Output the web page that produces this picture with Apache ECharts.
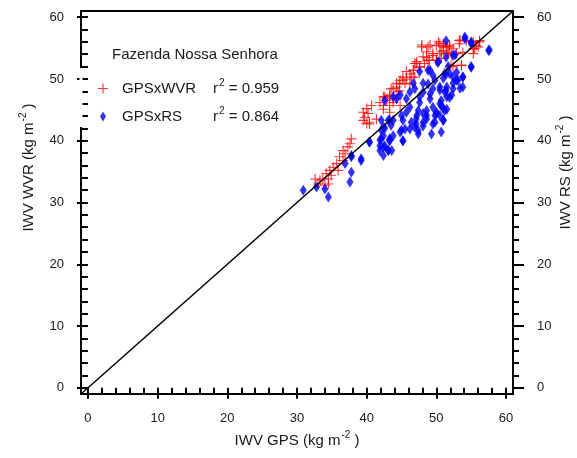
<!DOCTYPE html>
<html>
<head>
<meta charset="utf-8">
<script src="https://cdn.jsdelivr.net/npm/echarts@6/dist/echarts.min.js"></script>
<style>html,body{margin:0;padding:0;background:#fff}#c{width:577px;height:458px}</style>
</head>
<body>
<div id="c"></div>
<script>
// ---- data ----
var titleText = 'Fazenda Nossa Senhora';
var seriesNames = ['GPSxWVR', 'GPSxRS'];
var r2Values = ['0.959', '0.864'];
var majorTicks = [0, 10, 20, 30, 40, 50, 60];
var minorTicks = [2, 4, 6, 8, 12, 14, 16, 18, 22, 24, 26, 28, 32, 34, 36, 38, 42, 44, 46, 48, 52, 54, 56, 58];
var axisRange = [-1, 61];
var oneToOne = [-1, 61];
// GPSxWVR : [IWV GPS, IWV WVR]
var wvrPoints = [
 [47.9,55.2],[48.8,55.2],[50.0,55.4],[50.5,55.7],[51.4,55.4],[51.9,55.2],[51.0,54.6],[51.7,54.3],[50.5,54.1],[49.5,53.8],
 [48.6,53.5],[49.0,53.0],[50.0,53.0],[48.3,52.5],[47.1,52.5],[47.6,51.9],[46.7,51.4],[46.2,50.8],[46.9,50.3],[45.7,50.0],
 [45.2,49.8],[44.7,49.2],[46.2,49.2],[44.3,48.7],[43.5,48.4],[44.7,48.1],[43.3,47.3],[42.4,47.1],[42.8,46.5],[43.8,46.8],
 [41.9,46.2],[42.4,45.7],[43.3,45.7],[40.7,45.7],[40.0,45.2],[39.5,44.6],[40.2,44.4],[39.7,43.8],[41.4,43.5],[39.5,43.3],
 [40.4,42.7],[53.3,56.2],[54.3,56.2],[55.3,56.0],[56.2,56.2],[55.7,55.4],[53.3,55.7],[52.4,54.9],[52.9,54.1],[53.8,54.3],
 [55.3,54.9],[53.6,52.2],[52.1,52.2],
 [40.0,42.8],[40.4,43.0],[37.8,40.3],[37.6,39.5],[37.3,39.0],[36.6,38.4],[36.9,37.9],[36.1,37.4],[36.6,36.8],[35.7,36.3],
 [35.2,35.7],[35.9,35.2],[34.7,35.2],[34.2,34.7],[34.9,34.4],[33.7,33.8],[34.5,33.8],[33.3,33.6],[32.6,33.8],[34.5,33.0],
 [34.0,32.8],[33.0,33.0],
 [47.9,55.5],[49.1,55.5],[50.3,56.0],[51.0,55.7],[51.5,55.2],[50.7,54.4],[49.5,54.1],[48.6,54.4],[48.1,53.6],[47.2,52.8],
 [48.8,53.0],[50.0,53.0],[47.6,52.0],[46.7,51.4],[45.7,51.2],[46.4,50.3],[45.2,50.3],[44.8,49.8],[45.5,49.3],[44.3,49.3],
 [43.8,48.5],[43.3,47.4],[44.5,47.9],[42.6,47.1],[46.9,52.5],
 [51.0,55.2],[51.9,55.5],[51.5,54.1],[52.2,53.9],[53.4,56.3],[55.0,56.0],[56.2,56.0],[55.5,54.9],[56.0,55.2],[55.3,54.1],
 [53.6,52.2],[52.4,52.0],[50.7,53.3],
 [42.9,46.8],[43.8,46.2],[42.4,45.1],[44.3,46.8],[44.8,45.7],[43.3,44.6]
];
// GPSxRS : [IWV GPS, IWV RS]
var rsPoints = [
 [30.9,32.0],[32.8,32.5],[34.0,32.2],[34.5,30.9],[37.6,33.3],[37.8,34.9],[36.9,36.3],[37.8,37.4],[39.2,36.8],[40.4,39.8],
 [41.9,40.1],[42.1,41.7],[42.6,42.0],[42.4,39.0],[43.1,38.4],[43.3,40.1],[43.3,43.3],[42.1,43.3],
 [51.4,56.2],[54.1,56.5],[55.0,56.0],[57.5,54.6],[52.4,53.8],[51.4,53.5],[50.2,52.7],[48.8,51.4],[49.5,50.6],[51.4,50.8],
 [52.4,50.3],[53.8,50.3],[52.9,49.8],[53.8,48.7],[52.4,48.4],[51.4,48.1],[50.5,48.7],[49.5,48.4],[48.8,49.2],[48.1,47.9],
 [46.9,48.4],[45.7,46.8],[44.3,46.8],[42.6,46.5],[46.2,45.4],[47.4,44.9],[48.6,44.9],[49.5,45.4],[50.5,46.0],[51.0,45.2],
 [50.0,44.4],[48.6,43.5],[47.1,43.5],[45.7,44.6],[45.0,44.1],[45.2,43.3],[43.8,43.3],[43.1,43.3],[42.4,42.2],[43.5,42.5],
 [45.0,41.7],[46.2,41.9],[46.9,42.2],[47.4,41.1],[47.1,42.7],[48.1,43.0],[49.5,42.7],[49.8,44.1],[51.0,43.3],[48.1,44.4],
 [45.2,40.0],[43.3,40.3],[42.1,40.3],[41.9,39.2],[43.1,38.4],[41.9,38.4],[40.4,39.8],[42.4,40.8],[39.2,37.1],[37.8,37.6],
 [55.0,51.9],
 [50.3,52.8],[49.1,51.4],[47.6,51.2],[46.7,49.3],[48.1,49.3],[49.8,49.8],[51.2,50.9],[51.7,52.0],[50.5,48.2],[49.1,47.6],
 [47.6,47.1],[51.5,47.1],[46.2,47.9],[44.8,47.4],[43.8,47.1],
 [54.1,56.8],[55.0,55.7],[57.6,54.7],[52.7,53.9],[55.0,52.0],[53.8,50.3],[52.9,51.1],[51.9,50.9],[51.0,50.1],[52.4,49.3],
 [53.4,48.5],[51.5,48.7],[52.2,47.4],[51.2,47.9],[53.1,49.8],
 [47.6,46.2],[49.1,46.8],[50.7,46.5],[51.5,45.1],[50.0,44.6],[48.6,44.1],[47.2,44.1],[46.4,43.0],[48.1,42.4],[49.8,43.0],
 [47.4,41.6],[45.5,41.9],[44.8,41.4],[43.8,40.8],[45.2,40.0],[43.3,40.0],[42.6,39.2],[43.6,38.4],[42.4,37.6],[50.7,41.4],
 [49.3,41.1],[50.5,44.1],
 [51.9,47.0],[50.7,45.7],[51.2,44.9],[51.0,43.3]
];

// ---- chart ----
var FONT = '"Liberation Sans", Arial, sans-serif';
var TXT = '#1a1a1a';
var chart = echarts.init(document.getElementById('c'), null, {renderer: 'canvas'});
var plusPath = 'path://M4.45,0h1.1v4.45h4.45v1.1h-4.45v4.45h-1.1v-4.45h-4.45v-1.1h4.45z';
var diamondPath = 'path://M3,0L6,5L3,10L0,5Z';
var rich = {
  t: {fontFamily: FONT, fontSize: 15, color: TXT},
  s: {fontFamily: FONT, fontSize: 10, color: TXT, padding: [0, 0, 11, 1]}
};
var richLeg = {
  n: {fontFamily: FONT, fontSize: 15, color: TXT, width: 91, padding: [0, 0, 0, 9]},
  t: {fontFamily: FONT, fontSize: 15, color: TXT},
  s: {fontFamily: FONT, fontSize: 10, color: TXT, padding: [0, 0, 11, 1]}
};
function axisName(label) {
  return '{t|' + label + ' (kg m}{s|-2}{t| )}';
}
function majorAxis(extra) {
  return Object.assign({
    type: 'value', min: axisRange[0], max: axisRange[1],
    axisLine: {show: false},
    splitLine: {show: false},
    axisTick: {show: true, inside: false, length: 11, customValues: majorTicks, lineStyle: {color: '#000', width: 2}},
    axisLabel: {show: true, customValues: majorTicks, fontFamily: FONT, fontSize: 13, color: TXT},
    nameLocation: 'middle',
    nameMoveOverlap: false,
    nameTextStyle: {rich: rich}
  }, extra);
}
function minorAxis(extra) {
  return Object.assign({
    type: 'value', min: axisRange[0], max: axisRange[1],
    axisLine: {show: false},
    splitLine: {show: false},
    axisTick: {show: true, inside: false, length: 6, customValues: minorTicks, lineStyle: {color: '#000', width: 2}},
    axisLabel: {show: false}
  }, extra);
}
var xMajor = majorAxis({position: 'bottom', name: axisName('IWV GPS'), nameGap: 36});
xMajor.axisLabel.margin = 18;
var yLeft = majorAxis({position: 'left', name: axisName('IWV WVR'), nameGap: 42});
yLeft.axisLabel.margin = 17;
yLeft.nameTextStyle = {rich: rich, padding: [0, 0, 0, 70]};
var yRight = majorAxis({position: 'right', name: axisName('IWV RS'), nameGap: 42});
yRight.axisLabel.margin = 24;
yRight.axisLabel.align = 'left';
yRight.nameTextStyle = {rich: rich, padding: [0, 0, 0, 60]};

var option = {
  backgroundColor: '#fff',
  animation: false,
  title: {
    text: titleText, left: 107, top: 42,
    textStyle: {fontFamily: FONT, fontSize: 15, fontWeight: 'normal', color: TXT}
  },
  legend: {
    orient: 'vertical', left: 93, top: 73, itemGap: 10,
    itemWidth: 10, itemHeight: 10,
    data: seriesNames,
    formatter: function (name) {
      var i = seriesNames.indexOf(name);
      return '{n|' + name + '}{t|r}{s|2}{t| = ' + r2Values[i] + '}';
    },
    textStyle: {rich: richLeg}
  },
  grid: {left: 81, right: 64, top: 11, bottom: 64, outerBoundsMode: 'none', show: true, borderColor: '#000', borderWidth: 2, backgroundColor: 'transparent'},
  xAxis: [xMajor, minorAxis({position: 'bottom'})],
  yAxis: [yLeft, minorAxis({position: 'left'}), yRight, minorAxis({position: 'right'})],
  graphic: [
    {type: 'rect', left: 79.5, top: 68, shape: {width: 3, height: 59}, style: {fill: '#fff'}, z: 100}
  ],
  series: [
    {
      name: seriesNames[0], type: 'scatter', xAxisIndex: 0, yAxisIndex: 0,
      symbol: plusPath, symbolSize: 10,
      itemStyle: {color: '#ff0000'},
      data: wvrPoints, z: 2
    },
    {
      name: seriesNames[1], type: 'scatter', xAxisIndex: 0, yAxisIndex: 2,
      symbol: diamondPath, symbolSize: [7, 11],
      itemStyle: {color: '#0000ff'},
      data: rsPoints, z: 3
    },
    {
      type: 'line', xAxisIndex: 0, yAxisIndex: 0, silent: true, symbol: 'none',
      lineStyle: {color: '#000', width: 1.5},
      data: [[oneToOne[0], oneToOne[0]], [oneToOne[1], oneToOne[1]]], z: 4
    }
  ]
};
chart.setOption(option);
</script>
</body>
</html>
